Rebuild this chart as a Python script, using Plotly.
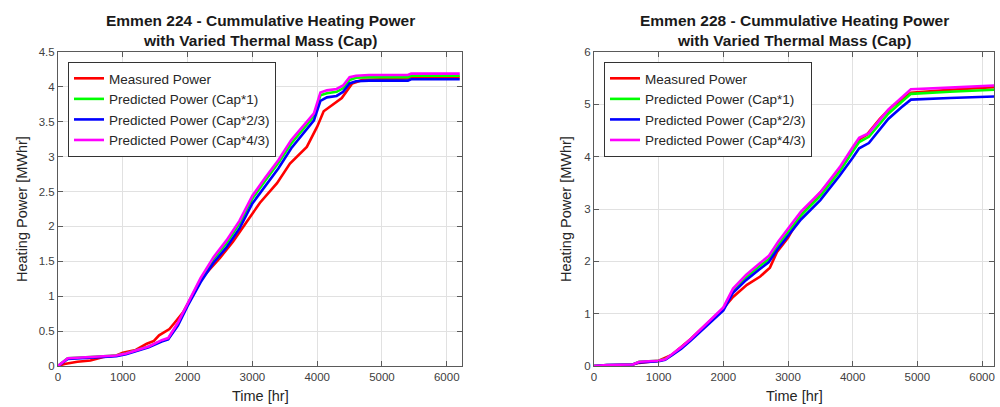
import plotly.graph_objects as go

# ---------------- Emmen 224 ----------------
t224_pred = [0, 150, 500, 900, 1050, 1200, 1400, 1600, 1700, 1850, 2000, 2200, 2400, 2600,
             2800, 3000, 3200, 3400, 3600, 3800, 3950, 4050, 4150, 4300, 4400, 4500, 4600,
             4800, 5400, 5450, 6200]
p224_cap1 = [0, 0.11, 0.13, 0.15, 0.18, 0.22, 0.28, 0.36, 0.39, 0.61, 0.89, 1.24, 1.53, 1.76,
             2.04, 2.40, 2.66, 2.91, 3.19, 3.42, 3.58, 3.88, 3.91, 3.93, 3.98, 4.10, 4.13,
             4.14, 4.14, 4.16, 4.16]
p224_cap23 = [0, 0.10, 0.12, 0.14, 0.17, 0.21, 0.27, 0.35, 0.38, 0.58, 0.86, 1.20, 1.48, 1.70,
              1.97, 2.33, 2.58, 2.83, 3.12, 3.35, 3.52, 3.80, 3.85, 3.87, 3.93, 4.05, 4.08,
              4.09, 4.09, 4.11, 4.11]
p224_cap43 = [0, 0.11, 0.13, 0.15, 0.18, 0.22, 0.28, 0.37, 0.40, 0.62, 0.90, 1.26, 1.56, 1.80,
              2.08, 2.44, 2.70, 2.95, 3.24, 3.46, 3.62, 3.92, 3.95, 3.97, 4.02, 4.14, 4.16,
              4.17, 4.17, 4.19, 4.19]
t224_meas = [0, 100, 300, 500, 700, 900, 1000, 1200, 1370, 1480, 1560, 1650, 1720, 1800, 1930,
             2040, 2240, 2500, 2700, 2900, 3117, 3380, 3580, 3840, 4000, 4100, 4200, 4380,
             4540, 4700, 5400, 5450, 6200]
m224 = [0, 0.03, 0.06, 0.08, 0.13, 0.15, 0.19, 0.23, 0.32, 0.36, 0.44, 0.49, 0.53, 0.62, 0.77,
        0.95, 1.28, 1.55, 1.78, 2.05, 2.34, 2.62, 2.90, 3.14, 3.43, 3.65, 3.72, 3.84, 4.05,
        4.10, 4.12, 4.14, 4.14]

# ---------------- Emmen 228 ----------------
t228_pred = [0, 200, 600, 700, 1000, 1100, 1200, 1350, 1500, 1650, 1850, 2000, 2150, 2350,
             2550, 2700, 2850, 3000, 3200, 3500, 3800, 4000, 4100, 4250, 4350, 4550, 4750,
             4900, 5500, 6200]
p228_cap1 = [0, 0.02, 0.03, 0.08, 0.10, 0.13, 0.21, 0.35, 0.51, 0.68, 0.91, 1.09, 1.44, 1.69,
             1.90, 2.04, 2.32, 2.56, 2.88, 3.25, 3.72, 4.10, 4.28, 4.38, 4.52, 4.82, 5.04,
             5.20, 5.24, 5.28]
p228_cap23 = [0, 0.02, 0.03, 0.07, 0.09, 0.12, 0.20, 0.33, 0.49, 0.66, 0.88, 1.06, 1.40, 1.64,
              1.84, 1.98, 2.25, 2.49, 2.80, 3.17, 3.64, 3.98, 4.16, 4.26, 4.42, 4.72, 4.94,
              5.09, 5.12, 5.15]
p228_cap43 = [0, 0.02, 0.03, 0.08, 0.10, 0.13, 0.22, 0.36, 0.52, 0.70, 0.94, 1.12, 1.48, 1.74,
              1.95, 2.10, 2.38, 2.62, 2.95, 3.32, 3.80, 4.18, 4.36, 4.45, 4.60, 4.90, 5.12,
              5.29, 5.32, 5.36]
t228_meas = [0, 600, 700, 1000, 1200, 1350, 1500, 1650, 1850, 2000, 2150, 2365, 2570, 2720,
             2830, 3000, 3185, 3540, 3805, 4000, 4100, 4220, 4420, 4600, 4900, 5500, 6200]
m228 = [0, 0.03, 0.06, 0.10, 0.21, 0.36, 0.52, 0.70, 0.92, 1.10, 1.32, 1.55, 1.71, 1.88,
        2.18, 2.45, 2.86, 3.37, 3.76, 4.15, 4.33, 4.42, 4.72, 4.95, 5.22, 5.28, 5.33]

names = ["Measured Power", "Predicted Power (Cap*1)", "Predicted Power (Cap*2/3)",
         "Predicted Power (Cap*4/3)"]
colors = ["#ff0000", "#00ff00", "#0000ff", "#ff00ff"]

titles = [["Emmen 224 - Cummulative Heating Power", "with Varied Thermal Mass (Cap)"],
          ["Emmen 228 - Cummulative Heating Power", "with Varied Thermal Mass (Cap)"]]
x_ticks = [0, 1000, 2000, 3000, 4000, 5000, 6000]
y_ticks_224 = [0, 0.5, 1, 1.5, 2, 2.5, 3, 3.5, 4, 4.5]
y_ticks_228 = [0, 1, 2, 3, 4, 5, 6]

fig = go.Figure()

panels = [
    ("x", "y", "legend", [(t224_meas, m224), (t224_pred, p224_cap1), (t224_pred, p224_cap23),
                          (t224_pred, p224_cap43)]),
    ("x2", "y2", "legend2", [(t228_meas, m228), (t228_pred, p228_cap1), (t228_pred, p228_cap23),
                             (t228_pred, p228_cap43)]),
]
for xa, ya, lg, series in panels:
    for (tx, vy), nm, c in zip(series, names, colors):
        fig.add_trace(go.Scatter(x=tx, y=vy, name=nm, mode="lines",
                                 line=dict(color=c, width=2.6),
                                 xaxis=xa, yaxis=ya, legend=lg))

axis_common = dict(showgrid=True, gridcolor="#e1e1e1", gridwidth=1, zeroline=False,
                   showline=True, linecolor="#5a5a5a", linewidth=1, mirror="ticks",
                   ticks="inside", ticklen=5, tickcolor="#5a5a5a",
                   tickfont=dict(family="Liberation Sans, Arial", size=11.5, color="#404040"))

W = 936.0
fig.update_layout(
    width=1000, height=407,
    margin=dict(l=58, r=6, t=52, b=41),
    paper_bgcolor="white", plot_bgcolor="white",
    showlegend=True,
    xaxis=dict(domain=[0, 404 / W], range=[0, 6235], tickvals=x_ticks, **axis_common),
    yaxis=dict(range=[0, 4.5], tickvals=y_ticks_224, **axis_common),
    xaxis2=dict(domain=[(594 - 58) / W, 1], range=[0, 6185], tickvals=x_ticks,
                anchor="y2", **axis_common),
    yaxis2=dict(range=[0, 6], tickvals=y_ticks_228, anchor="x2", **axis_common),
    legend=dict(x=10 / W, y=0.968, xanchor="left", yanchor="top",
                bgcolor="white", bordercolor="#333333", borderwidth=1,
                font=dict(family="Liberation Sans, Arial", size=13.5, color="#262626"),
                tracegroupgap=0, itemwidth=30),
    legend2=dict(x=(604 - 58) / W, y=0.968, xanchor="left", yanchor="top",
                 bgcolor="white", bordercolor="#333333", borderwidth=1,
                 font=dict(family="Liberation Sans, Arial", size=13.5, color="#262626"),
                 tracegroupgap=0, itemwidth=30),
    font=dict(family="Liberation Sans, Arial"),
)

ann = []
centers = [(58 + 462) / 2, (594 + 994) / 2]
ylab_x = [22, 566]
for i in range(2):
    cx = (centers[i] - 58) / W
    ann.append(dict(text="<b>%s</b>" % titles[i][0], x=cx, y=(366 - 20) / 314.0,
                    xref="paper", yref="paper", showarrow=False, xanchor="center",
                    yanchor="middle", font=dict(size=15.5, color="#1a1a1a")))
    ann.append(dict(text="<b>%s</b>" % titles[i][1], x=cx, y=(366 - 41) / 314.0,
                    xref="paper", yref="paper", showarrow=False, xanchor="center",
                    yanchor="middle", font=dict(size=15.5, color="#1a1a1a")))
    ann.append(dict(text="Time [hr]", x=cx, y=(366 - 396) / 314.0, xref="paper",
                    yref="paper", showarrow=False, xanchor="center", yanchor="middle",
                    font=dict(size=14.5, color="#262626")))
    ann.append(dict(text="Heating Power [MWhr]", x=(ylab_x[i] - 58) / W, y=0.5,
                    xref="paper", yref="paper", showarrow=False, xanchor="center",
                    yanchor="middle", textangle=-90, font=dict(size=14.5, color="#262626")))
fig.update_layout(annotations=ann)

# remove the default page margin so the 1000x407 figure fills the window exactly
fig.write_html("out.html", config={"displayModeBar": False},
               post_script="document.body.style.margin='0';document.body.style.overflow='hidden';")
